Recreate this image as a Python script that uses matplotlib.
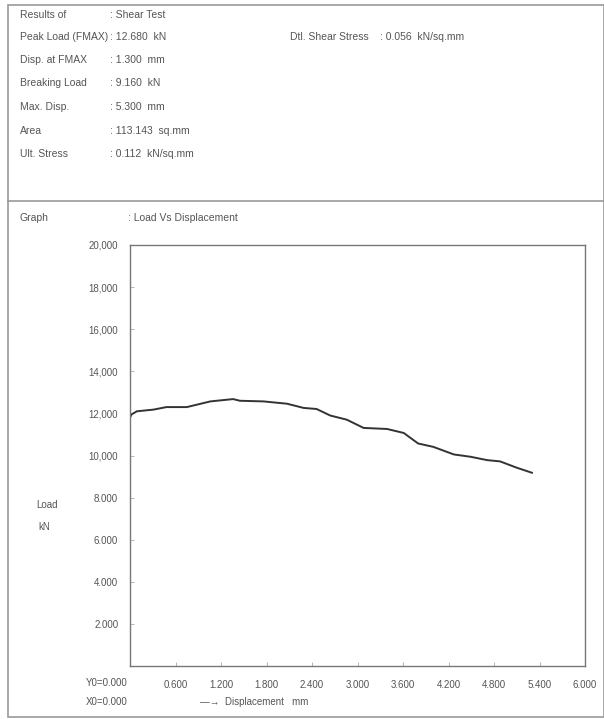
import matplotlib.pyplot as plt
from matplotlib.patches import Rectangle
from matplotlib.lines import Line2D

plt.rcParams['font.family'] = ['Liberation Sans Narrow', 'Liberation Sans', 'DejaVu Sans']

# displacement (mm) vs load (kN)
disp = [0.00, 0.02, 0.09, 0.31, 0.48, 0.75, 1.06, 1.36, 1.45, 1.76, 2.07, 2.29,
        2.46, 2.64, 2.86, 3.08, 3.39, 3.61, 3.80, 4.00, 4.27, 4.49, 4.71, 4.88,
        5.10, 5.30]
load = [11.80, 11.95, 12.10, 12.18, 12.30, 12.30, 12.57, 12.68, 12.60, 12.57,
        12.46, 12.26, 12.21, 11.90, 11.70, 11.31, 11.26, 11.07, 10.57, 10.41,
        10.05, 9.94, 9.78, 9.72, 9.42, 9.18]

x_ticks = [0.6, 1.2, 1.8, 2.4, 3.0, 3.6, 4.2, 4.8, 5.4, 6.0]
y_ticks = [2, 4, 6, 8, 10, 12, 14, 16, 18, 20]

header_labels = ["Results of", "Peak Load (FMAX)", "Disp. at FMAX", "Breaking Load",
                 "Max. Disp.", "Area", "Ult. Stress"]
header_values = [": Shear Test", ": 12.680  kN", ": 1.300  mm", ": 9.160  kN",
                 ": 5.300  mm", ": 113.143  sq.mm", ": 0.112  kN/sq.mm"]

W, H = 604, 719
tc = '#555555'
fig = plt.figure(figsize=(W / 100, H / 100), dpi=100)


def fx(px):
    return px / W


def fy(py):
    return 1 - py / H


# outer frame and divider
fig.patches.append(Rectangle((fx(8), fy(717)), fx(604) - fx(8), fy(5) - fy(717),
                             transform=fig.transFigure, fill=False,
                             edgecolor='#999999', lw=1.2))
fig.lines.append(Line2D([fx(8), fx(604)], [fy(201), fy(201)],
                        transform=fig.transFigure, color='#999999', lw=1.2))

rows_y = [15, 37, 60, 83, 107, 131, 154]
for lab, val, py in zip(header_labels, header_values, rows_y):
    fig.text(fx(20), fy(py), lab, fontsize=7.5, color=tc, va='center')
    fig.text(fx(110), fy(py), val, fontsize=7.5, color=tc, va='center')
fig.text(fx(290), fy(37), "Dtl. Shear Stress", fontsize=7.5, color=tc, va='center')
fig.text(fx(380), fy(37), ": 0.056  kN/sq.mm", fontsize=7.5, color=tc, va='center')

fig.text(fx(20), fy(218), "Graph", fontsize=7.5, color=tc, va='center')
fig.text(fx(128), fy(218), ": Load Vs Displacement", fontsize=7.5, color=tc, va='center')

ax = fig.add_axes([fx(130), fy(666), fx(585) - fx(130), fy(245) - fy(666)])
ax.plot(disp, load, color='#333333', lw=1.4)
ax.set_xlim(0, 6)
ax.set_ylim(0, 20)
ax.set_xticks(x_ticks)
ax.set_yticks(y_ticks)
ax.set_xticklabels([f"{v:.3f}" for v in x_ticks])
ax.set_yticklabels([f"{v:.3f}".replace('.', ',', 1) if v >= 10 else f"{v:.3f}" for v in y_ticks])
ax.tick_params(direction='in', length=3, width=0.6, color='#aaaaaa',
               labelsize=7, labelcolor=tc)
ax.tick_params(axis='y', pad=8.5)
ax.tick_params(axis='x', pad=10)
for s in ax.spines.values():
    s.set_color('#777777')
    s.set_linewidth(1.0)

fig.text(fx(36), fy(505), "Load", fontsize=7, color=tc, va='center')
fig.text(fx(38), fy(527), "kN", fontsize=7, color=tc, va='center')
fig.text(fx(86), fy(683), "Y0=0.000", fontsize=7, color=tc, va='center')
fig.text(fx(86), fy(702), "X0=0.000", fontsize=7, color=tc, va='center')
fig.text(fx(200), fy(702), "\u2014\u2192  Displacement   mm", fontsize=7, color=tc, va='center')

fig.savefig('out.png', dpi=100)
